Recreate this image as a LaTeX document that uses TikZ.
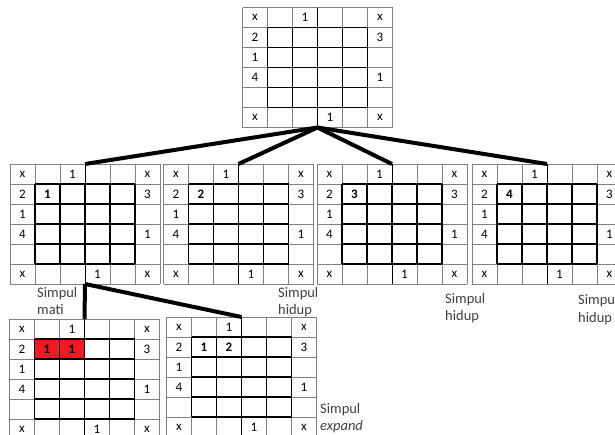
\documentclass[tikz,border=0pt]{standalone}
\usepackage{fontspec}
\setmainfont{Carlito}
\usepackage{xcolor}
\usepackage{tikz}
\usetikzlibrary{positioning}

\definecolor{merah}{RGB}{237,28,36}
\definecolor{abu}{RGB}{128,128,128}
\definecolor{teks}{RGB}{64,64,64}

% papan: nama, kiri, atas, isi dalam (teks/kolom/baris/gaya)
\newcommand{\papan}[4]{%
  \begin{scope}[shift={(#2,#3)}]
    \node[bingkai] (#1) at (75,60) {};
    \foreach \tk/\kk/\bb/\gy in {#4}
      \node[\gy] (#1-\kk\bb) at (25*\kk-12.5,20*\bb-10) {\tk};
    \foreach \i in {0,...,6} \draw[tipis] (25*\i,0) -- (25*\i,120);
    \foreach \j in {0,...,6} \draw[tipis] (0,20*\j) -- (150,20*\j);
    \foreach \i in {1,...,5} \draw[tebal] (25*\i,20) -- (25*\i,100);
    \foreach \j in {1,...,5} \draw[tebal] (25,20*\j) -- (125,20*\j);
    \draw[tengah] (75,0) -- (75,120);
    \foreach \tk/\kk/\bb in {x/1/1,1/3/1,x/6/1,2/1/2,3/6/2,1/1/3,4/1/4,1/6/4,x/1/6,1/4/6,x/6/6}
      \node[sel] (#1-\kk\bb) at (25*\kk-12.5,20*\bb-10) {\tk};
  \end{scope}}

\begin{document}
\begin{tikzpicture}[
  x=1pt,y=-1pt,
  bingkai/.style={rectangle,minimum width=150pt,minimum height=120pt,inner sep=0pt,outer sep=0pt},
  sel/.style={font=\fontsize{13}{13}\selectfont,inner sep=0pt},
  isi/.style={font=\fontsize{13}{13}\selectfont\bfseries,inner sep=0pt},
  mati/.style={isi,fill=merah,minimum width=25pt,minimum height=20pt},
  tipis/.style={draw=abu,line width=1pt},
  tebal/.style={line width=1.6pt},
  tengah/.style={line width=1pt},
  cabang/.style={line width=4pt},
  ket/.style={font=\fontsize{14.5}{17.5}\selectfont,text=teks,align=left,anchor=north west,inner sep=0pt}
]
  \useasboundingbox (0,0) rectangle (615,434);
  \clip (0,0) rectangle (615,434);

  \papan{akar}{242.5}{7.5}{}
  \papan{g1}{10}{164}{1/2/2/isi}
  \papan{g2}{163.5}{164}{2/2/2/isi}
  \papan{g3}{317}{164}{3/2/2/isi}
  \papan{g4}{472}{164}{4/2/2/isi}
  \papan{gA}{9.5}{319}{1/2/2/mati,1/3/2/mati}
  \papan{gB}{166.5}{317}{1/2/2/isi,2/3/2/isi}

  \draw[cabang] (akar.south) -- (g1.north);
  \draw[cabang] (akar.south) -- (g2.north);
  \draw[cabang] (akar.south) -- (g3.north);
  \draw[cabang] (akar.south) -- (g4.north);
  \draw[cabang] (g1.south) -- (gA.north);
  \draw[cabang] (g1.south) -- (gB.north);

  \node[ket] (lmati) at (37,287) {Simpul\\mati};
  \node[ket] (lhidup2) at (278,287) {Simpul\\hidup};
  \node[ket] (lhidup3) at (445,293) {Simpul\\hidup};
  \node[ket] (lhidup4) at (578,294.5) {Simpul\\hidup};
  \node[ket] (lexpand) at (320,403) {Simpul\\\textit{expand}};
\end{tikzpicture}
\end{document}
